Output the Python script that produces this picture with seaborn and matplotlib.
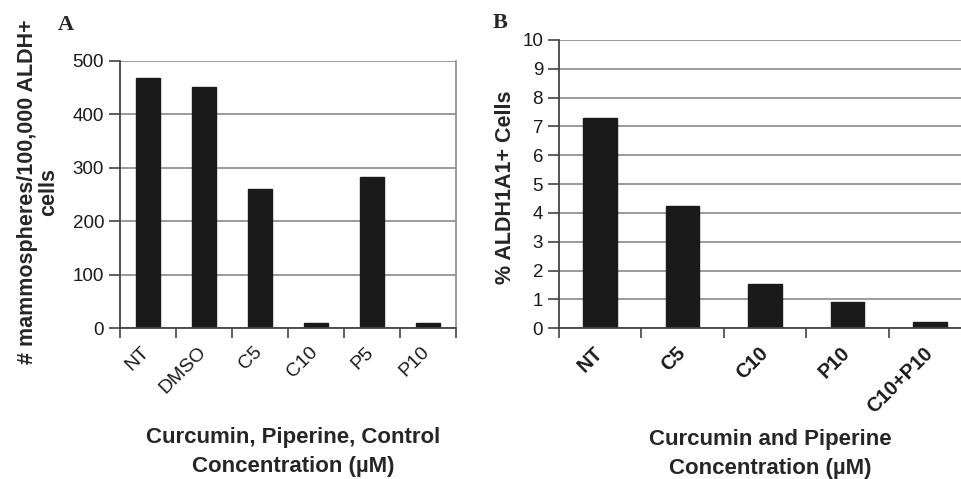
import matplotlib
matplotlib.use("Agg")
import matplotlib.pyplot as plt
import matplotlib.transforms as mtrans
import seaborn as sns
import pandas as pd
import numpy as np

# ---- data ----
cats_a = ["NT", "DMSO", "C5", "C10", "P5", "P10"]
vals_a = [468, 450, 261, 9, 282, 9]
yticks_a = [0, 100, 200, 300, 400, 500]

cats_b = ["NT", "C5", "C10", "P10", "C10+P10"]
vals_b = [7.3, 4.23, 1.53, 0.91, 0.21]
yticks_b = list(range(0, 11))

sns.set_theme(style="white")
plt.rcParams['font.family'] = ['Liberation Sans', 'DejaVu Sans']

fig = plt.figure(figsize=(9.62, 4.79), dpi=100)
axA = fig.add_axes([120/962, 1-328.3/479, 336/962, 267.6/479])
axB = fig.add_axes([559/962, 1-328.3/479, 412/962, 288.3/479])

df_a = pd.DataFrame({"cat": cats_a, "val": vals_a})
df_b = pd.DataFrame({"cat": cats_b, "val": vals_b})

bar_color = "#1a1a1a"
grid_c = "#8a8a8a"
spine_c = "#444444"

def style(ax, cats, yticks, ymax, bold_ticks, right_border, cat_fs):
    ax.set_axisbelow(True)
    ax.set_ylim(0, ymax)
    ax.set_xlim(-0.5, len(cats) - 0.5)
    ax.set_yticks(yticks)
    ax.set_yticklabels([str(t) for t in yticks], fontsize=13.5, color="#1a1a1a")
    ax.yaxis.grid(True, color=grid_c, linewidth=1.2)
    ax.xaxis.grid(False)
    for s in ["left", "bottom"]:
        ax.spines[s].set_color(spine_c)
        ax.spines[s].set_linewidth(1.3)
    ax.spines["top"].set_visible(False)
    if right_border:
        ax.spines["right"].set_color(grid_c)
        ax.spines["right"].set_linewidth(1.2)
    else:
        ax.spines["right"].set_visible(False)
    ax.tick_params(axis="y", which="major", left=True, length=8, width=1.2,
                   color=spine_c, pad=3.5)
    ax.set_xticks(range(len(cats)))
    ax.set_xticklabels(cats, rotation=45, ha="right", rotation_mode="anchor",
                       fontsize=cat_fs, color="#1a1a1a",
                       fontweight="bold" if bold_ticks else "normal")
    ax.tick_params(axis="x", which="major", bottom=False, length=0, pad=11)
    ax.set_xticks(np.arange(-0.5, len(cats), 1.0), minor=True)
    ax.tick_params(axis="x", which="minor", bottom=True, length=7, width=1.2,
                   color=spine_c)
    off = mtrans.ScaledTranslation(-5/72, 0, fig.dpi_scale_trans)
    for lab in ax.get_xticklabels():
        lab.set_transform(lab.get_transform() + off)

sns.barplot(data=df_a, x="cat", y="val", ax=axA, color=bar_color,
            saturation=1, width=0.42, edgecolor=bar_color)
style(axA, cats_a, yticks_a, 500, False, True, 14)
axA.set_ylabel("# mammospheres/100,000 ALDH+\ncells", fontsize=15.5,
               fontweight="bold", linespacing=1.0)
axA.yaxis.set_label_coords(-0.181, 0.509)
axA.set_xlabel("Curcumin, Piperine, Control\nConcentration (\u00b5M)",
               fontsize=16, fontweight="bold", linespacing=1.5)
axA.xaxis.set_label_coords(0.515, -0.37)

sns.barplot(data=df_b, x="cat", y="val", ax=axB, color=bar_color,
            saturation=1, width=0.41, edgecolor=bar_color)
style(axB, cats_b, yticks_b, 10, True, False, 14.5)
axB.set_ylabel("% ALDH1A1+ Cells", fontsize=15.5, fontweight="bold")
axB.yaxis.set_label_coords(-0.104, 0.488)
axB.set_xlabel("Curcumin and Piperine\nConcentration (\u00b5M)",
               fontsize=16, fontweight="bold", linespacing=1.5)
axB.xaxis.set_label_coords(0.512, -0.348)

fig.text(58/962, 1-30/479, "A", family="Liberation Serif", fontweight="bold",
         fontsize=16)
fig.text(493/962, 1-28/479, "B", family="Liberation Serif", fontweight="bold",
         fontsize=16)

fig.savefig("out.png", dpi=100)
